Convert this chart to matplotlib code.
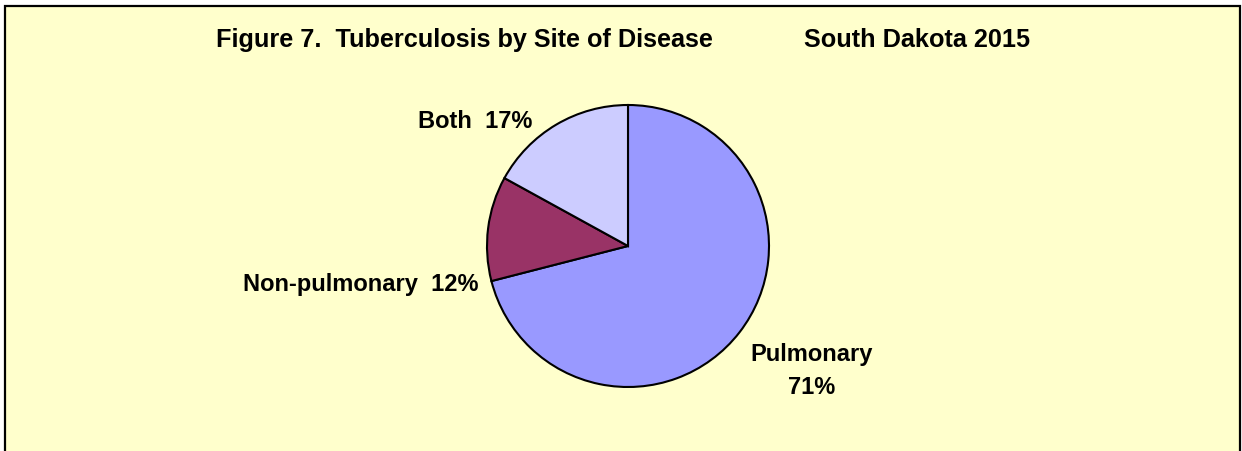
import matplotlib.pyplot as plt
from matplotlib.patches import Rectangle

sites = ["Pulmonary", "Non-pulmonary", "Both"]
percents = [71, 12, 17]
colors = ["#9999FF", "#993366", "#CCCCFF"]
label_lines = [["Pulmonary", "71%"], ["Non-pulmonary  12%"], ["Both  17%"]]

W, H = 1242, 452
cx, cy, r = 628, 247, 141

fig = plt.figure(figsize=(W / 100, H / 100), dpi=100)
fig.patch.set_facecolor("white")

ax = fig.add_axes([0, 0, 1, 1])
ax.set_facecolor("none")

# yellow chart area with border (open at the bottom)
ax.add_patch(Rectangle(
    (5 / W, -0.05), 1235 / W, 1.05 - 7 / H,
    transform=fig.transFigure, facecolor="#FFFFCC",
    edgecolor="black", linewidth=1.6, zorder=-5, clip_on=False
))

ax.pie(
    percents,
    colors=colors,
    startangle=90,
    counterclock=False,
    radius=1,
    wedgeprops=dict(edgecolor="black", linewidth=1.5)
)

ax.set_xlim(-cx / r, (W - cx) / r)
ax.set_ylim(-(H - cy) / r, cy / r)
ax.set_aspect("auto")
ax.axis("off")

# label centre x and first baseline y in pixels (from top-left)
label_px = [(812, 361), (361, 291), (475, 128)]
line_step = 33

for lines, (px, py) in zip(label_lines, label_px):
    for i, line in enumerate(lines):
        ax.text(
            (px - cx) / r, (cy - py - i * line_step) / r, line,
            ha="center", va="baseline", fontsize=17,
            fontweight="bold", family="Liberation Sans"
        )

fig.text(
    216 / W, 1 - 47 / H,
    "Figure 7.  Tuberculosis by Site of Disease",
    ha="left", va="baseline", fontsize=18.2,
    fontweight="bold", family="Liberation Sans"
)
fig.text(
    1030 / W, 1 - 47 / H,
    "South Dakota 2015",
    ha="right", va="baseline", fontsize=18.2,
    fontweight="bold", family="Liberation Sans"
)

fig.savefig("out.png", dpi=100)
